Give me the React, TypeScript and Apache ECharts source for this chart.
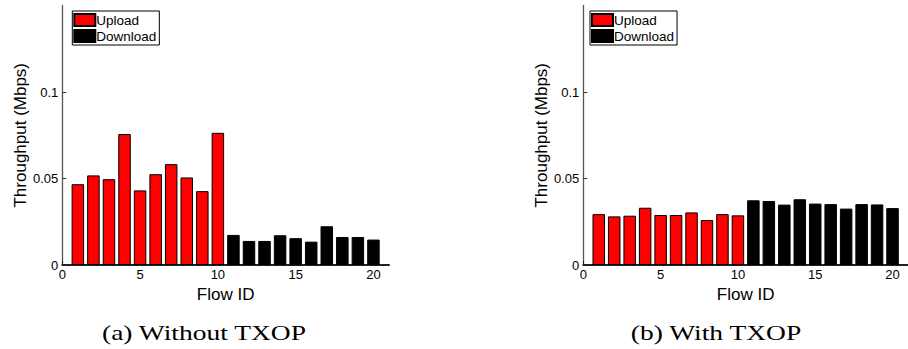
import React, { useEffect, useRef } from "react";
import * as echarts from "echarts";

const flowIdsUpload = [1, 2, 3, 4, 5, 6, 7, 8, 9, 10];
const flowIdsDownload = [11, 12, 13, 14, 15, 16, 17, 18, 19, 20];

// (a) Without TXOP
const uploadWithout = [0.0467, 0.0518, 0.0496, 0.0757, 0.0431, 0.0525, 0.0583, 0.0506, 0.0427, 0.0764];
const downloadWithout = [0.0174, 0.0139, 0.0139, 0.0172, 0.0155, 0.0135, 0.0224, 0.0162, 0.0162, 0.0147];

// (b) With TXOP
const uploadWith = [0.0294, 0.0281, 0.0285, 0.0331, 0.0289, 0.0289, 0.0304, 0.026, 0.0294, 0.0287];
const downloadWith = [0.0374, 0.037, 0.0349, 0.038, 0.0355, 0.0352, 0.0326, 0.0352, 0.035, 0.0329];

const xTicks = [0, 5, 10, 15, 20];
const yTicks = [0, 0.05, 0.1];
const captions = ["(a) Without TXOP", "(b) With TXOP"];
const xName = "Flow ID";
const yName = "Throughput (Mbps)";
const seriesNames = ["Upload", "Download"];

const SANS = "'Liberation Sans', Arial, sans-serif";

export default function App() {
  const ref = useRef<HTMLDivElement>(null);
  useEffect(() => {
    if (!ref.current) return;
    const chart = echarts.init(ref.current, undefined, { renderer: "svg" });
    const grids = [
      { left: 62.3, top: 5.5, width: 326.7, height: 259.5 },
      { left: 583.3, top: 5.5, width: 330.75, height: 259.5 },
    ];
    const mkX = (i: number) => ({
      type: "value",
      gridIndex: i,
      min: 0,
      max: 21,
      interval: 1,
      name: xName,
      nameLocation: "middle",
      nameGap: 16,
      nameTextStyle: { fontFamily: SANS, fontSize: 17, color: "#000" },
      axisLine: { onZero: false, lineStyle: { color: "#222", width: 2 } },
      axisTick: { show: true, inside: true, length: 4, customValues: xTicks, lineStyle: { color: "#222" } },
      axisLabel: { customValues: xTicks, fontFamily: SANS, fontSize: 13, color: "#000", margin: 3 },
      splitLine: { show: false },
    });
    const mkY = (i: number) => ({
      type: "value",
      gridIndex: i,
      min: 0,
      max: 0.15,
      interval: 0.05,
      name: yName,
      nameLocation: "middle",
      nameGap: 32,
      nameTextStyle: { fontFamily: SANS, fontSize: 17, color: "#000" },
      axisLine: { show: true, onZero: false, lineStyle: { color: "#555", width: 1.3 } },
      axisTick: { show: true, inside: true, length: 4, customValues: [0.05, 0.1], lineStyle: { color: "#333" } },
      axisLabel: { customValues: yTicks, fontFamily: SANS, fontSize: 13, color: "#000", margin: 4 },
      splitLine: { show: false },
    });
    const bar = (name: string, i: number, xs: number[], ys: number[], color: string) => ({
      type: "bar",
      name,
      xAxisIndex: i,
      yAxisIndex: i,
      barWidth: 12.5,
      barGap: "-100%",
      data: xs.map((x, k) => [x, ys[k]]),
      itemStyle: { color, borderColor: "#000", borderWidth: 1 },
    });
    const mkLegend = (left: number) => ({
      data: seriesNames,
      orient: "vertical",
      left,
      top: 11,
      itemWidth: 21,
      itemHeight: 12,
      itemGap: 2,
      icon: "rect",
      borderColor: "#000",
      borderWidth: 1,
      backgroundColor: "#fff",
      padding: [2, 3, 2, 1],
      selectedMode: false,
      textStyle: { fontFamily: SANS, fontSize: 13.5, color: "#000", padding: [0, 0, 0, -4] },
    });
    chart.setOption({
      animation: false,
      backgroundColor: "#fff",
      grid: grids,
      xAxis: [mkX(0), mkX(1)],
      yAxis: [mkY(0), mkY(1)],
      legend: [mkLegend(72.3), mkLegend(590)],
      series: [
        bar(seriesNames[0], 0, flowIdsUpload, uploadWithout, "#ff0000"),
        bar(seriesNames[1], 0, flowIdsDownload, downloadWithout, "#000000"),
        bar(seriesNames[0], 1, flowIdsUpload, uploadWith, "#ff0000"),
        bar(seriesNames[1], 1, flowIdsDownload, downloadWith, "#000000"),
      ],
      graphic: [
        {
          type: "text",
          x: 204,
          y: 332,
          scaleX: 1.25,
          style: {
            text: captions[0],
            fontFamily: "'Liberation Serif', 'Times New Roman', serif",
            fontSize: 22,
            fill: "#000",
            align: "center",
            verticalAlign: "middle",
          },
        },
        {
          type: "text",
          x: 716,
          y: 332,
          scaleX: 1.25,
          style: {
            text: captions[1],
            fontFamily: "'Liberation Serif', 'Times New Roman', serif",
            fontSize: 22,
            fill: "#000",
            align: "center",
            verticalAlign: "middle",
          },
        },
      ],
    });
    return () => chart.dispose();
  }, []);
  return (
    <div
      ref={ref}
      style={{ position: "absolute", left: 0, top: 0, width: 908, height: 349 }}
    />
  );
}
